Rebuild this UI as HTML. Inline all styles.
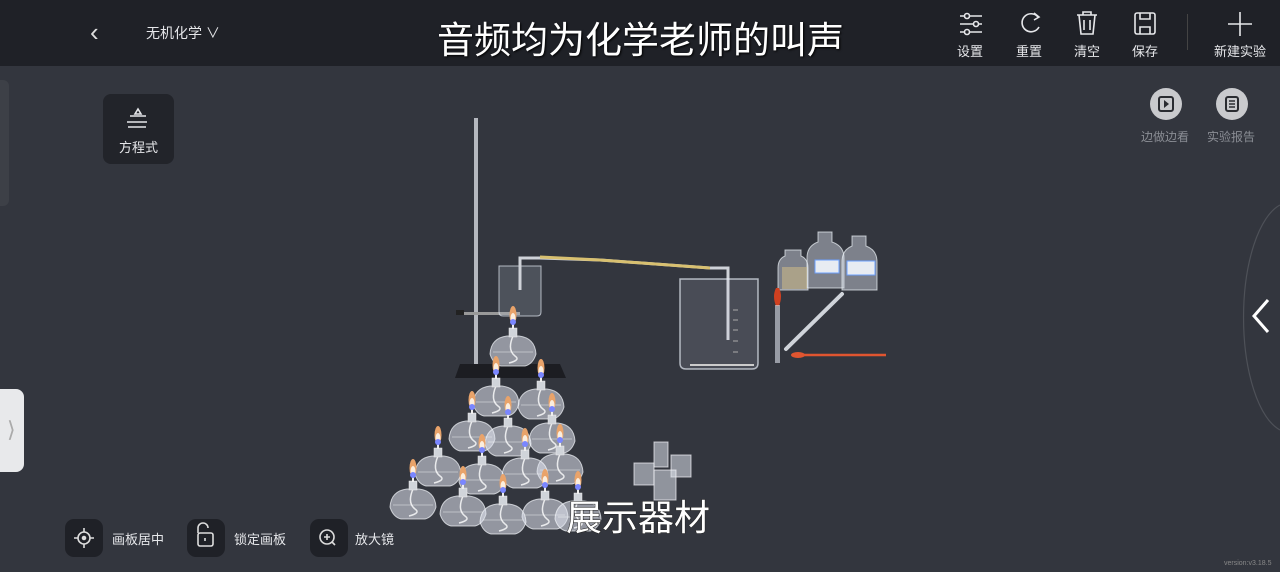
<!DOCTYPE html>
<html><head><meta charset="utf-8"><style>
html,body{margin:0;padding:0;width:1280px;height:572px;overflow:hidden;background:#33363e;font-family:"Liberation Sans","Noto Sans CJK SC",sans-serif;}
.top{position:absolute;left:0;top:0;width:1280px;height:66px;background:#1f2127;}
.t{position:absolute;color:#e6e7ea;white-space:nowrap;}
.btn{position:absolute;width:38px;height:38px;border-radius:9px;background:#1f2127;}
</style></head><body>
<div class="top"></div>
<div class="t" style="left:90px;top:17px;font-size:26px;color:#ddd;">‹</div>
<div class="t" style="left:146px;top:23px;font-size:14px;">无机化学 ∨</div>
<div class="t" style="left:437px;top:10px;font-size:37px;color:#fff;text-shadow:1px 1px 2px #000;">音频均为化学老师的叫声</div>
<div class="t" style="left:957px;top:41px;font-size:13px;">设置</div>
<div class="t" style="left:1016px;top:41px;font-size:13px;">重置</div>
<div class="t" style="left:1074px;top:41px;font-size:13px;">清空</div>
<div class="t" style="left:1132px;top:41px;font-size:13px;">保存</div>
<div class="t" style="left:1214px;top:41px;font-size:13px;">新建实验</div>
<div style="position:absolute;left:1187px;top:14px;width:1px;height:36px;background:#444;"></div>
<div style="position:absolute;left:103px;top:94px;width:71px;height:70px;border-radius:8px;background:#22242a;"></div>
<div class="t" style="left:119px;top:137px;font-size:13px;">方程式</div>
<div class="t" style="left:1141px;top:128px;font-size:12px;color:#8a8d94;">边做边看</div>
<div class="t" style="left:1207px;top:128px;font-size:12px;color:#8a8d94;">实验报告</div>
<div style="position:absolute;left:0;top:80px;width:9px;height:126px;border-radius:0 6px 6px 0;background:#3d4047;"></div>
<div style="position:absolute;left:0;top:389px;width:24px;height:83px;border-radius:0 8px 8px 0;background:#e8e9eb;"></div>
<div class="t" style="left:7px;top:417px;font-size:22px;color:#aaa;">⟩</div>
<div class="btn" style="left:65px;top:519px;"></div>
<div class="btn" style="left:187px;top:519px;"></div>
<div class="btn" style="left:310px;top:519px;"></div>
<div class="t" style="left:112px;top:529px;font-size:13px;">画板居中</div>
<div class="t" style="left:234px;top:529px;font-size:13px;">锁定画板</div>
<div class="t" style="left:355px;top:529px;font-size:13px;">放大镜</div>
<div class="t" style="left:1224px;top:560px;font-size:7px;color:#888;">version:v3.18.5</div>
<svg width="1280" height="572" style="position:absolute;left:0;top:0" xmlns="http://www.w3.org/2000/svg">
<defs>
<g id="lamp">
 <path d="M-23,4 Q-22,-12 -6,-14 L6,-14 Q22,-12 23,4 Q20,14 12,16 L-12,16 Q-20,14 -23,4Z" fill="rgba(225,230,240,0.55)" stroke="rgba(245,248,252,0.7)" stroke-width="1"/>
 <path d="M-20,2 H20" stroke="rgba(255,255,255,0.4)" stroke-width="1"/>
 <path d="M0,-14 Q-6,0 2,6 Q8,10 -4,13" stroke="rgba(255,255,255,0.8)" fill="none" stroke-width="1.5"/>
 <rect x="-4" y="-22" width="8" height="9" fill="#d0d4da" stroke="#eee" stroke-width="0.5"/>
 <rect x="-1" y="-27" width="2" height="6" fill="#eee"/>
 <ellipse cx="0" cy="-35" rx="3.5" ry="9" fill="#e9a36a"/>
 <ellipse cx="0" cy="-32" rx="2.5" ry="5" fill="#fbeede"/>
 <ellipse cx="0" cy="-28" rx="3" ry="3" fill="#7a86ff"/>
</g>
</defs>
<g stroke="#e6e7ea" stroke-width="1.6" fill="none">
 <path d="M960,16h22M960,24h22M960,32h22"/><circle cx="967" cy="16" r="2.5" fill="#1f2127"/><circle cx="976" cy="24" r="2.5" fill="#1f2127"/><circle cx="967" cy="32" r="2.5" fill="#1f2127"/>
 <path d="M1038,17 A9,9 0 1 0 1039,27"/><path d="M1034,13l5,4-5,3"/>
 <path d="M1077,15h20M1083,15v-3h8v3M1079,15l2,19h12l2-19M1084,20v10M1090,20v10"/>
 <rect x="1135" y="13" width="20" height="21" rx="2"/><path d="M1140,13v6h10v-6M1140,34v-7h10v7"/>
 <path d="M1240,12v24M1228,24h24"/>
 <path d="M130,116h16M127,122h20M128,127h18" /><path d="M138,109l-3,5h6z"/>
</g>
<circle cx="1166" cy="104" r="16" fill="#c9cacd"/><rect x="1159" y="97" width="14" height="14" rx="2" fill="none" stroke="#2a2c31" stroke-width="2"/><path d="M1164,100v8l5-4z" fill="#2a2c31"/>
<circle cx="1232" cy="104" r="16" fill="#c9cacd"/><rect x="1226" y="97" width="12" height="14" rx="2" fill="none" stroke="#2a2c31" stroke-width="2"/><path d="M1229,101h6M1229,104h6M1229,107h6" stroke="#2a2c31" stroke-width="1.5"/>
<path d="M1280,205 A46,115 0 0 0 1280,430" fill="none" stroke="#4e5158" stroke-width="1.2"/>
<path d="M1268,300l-14,16l14,16" fill="none" stroke="#fff" stroke-width="3"/>
<g stroke="#ddd" stroke-width="1.6" fill="none">
<circle cx="84" cy="538" r="6"/><circle cx="84" cy="538" r="1.5" fill="#ddd"/><path d="M84,528v4M84,544v4M74,538h4M90,538h4"/>
<rect x="198" y="533" width="15" height="13" rx="2"/><path d="M198,533v-5a5,5 0 0 1 10,0"/><path d="M205,538v3"/>
<circle cx="327" cy="537" r="7"/><path d="M324,537h6M327,534v6M332,542l3,3"/>
</g>
<rect x="474" y="118" width="4" height="252" fill="#b5b8bf"/>
<path d="M455,378 L460,364 L560,364 L566,378Z" fill="#1c1d22"/>
<rect x="460" y="312" width="60" height="3" fill="#999"/><rect x="456" y="310" width="8" height="5" fill="#222"/>
<path d="M499,266 h42 v46 q0,4 -4,4 h-34 q-4,0 -4,-4z" fill="rgba(200,210,225,0.18)" stroke="rgba(230,235,245,0.7)"/>
<path d="M520,290 V258 H540 L600,260 L710,268 H728 V340" fill="none" stroke="#cfd2d8" stroke-width="3"/>
<path d="M540,257 L600,260 L710,268" fill="none" stroke="#d8c070" stroke-width="3"/>
<path d="M680,279 h78 v84 q0,6 -6,6 h-66 q-6,0 -6,-6z" fill="rgba(200,210,225,0.15)" stroke="rgba(230,235,245,0.7)" stroke-width="1.5"/>
<path d="M690,365 h64" stroke="#ccc" stroke-width="2"/>
<g stroke="#aaa" stroke-width="1"><path d="M733,310h5M733,320h5M733,330h5M733,341h5M733,352h5"/></g>
<g fill="rgba(215,222,232,0.45)" stroke="rgba(240,245,250,0.7)">
<path d="M785,250h16v6q7,3 7,12v22h-30v-22q0-9 7-12z"/>
<path d="M818,232h14v10q12,4 12,16v30h-37v-30q0-12 11-16z"/>
<path d="M852,236h14v10q11,4 11,16v28h-35v-28q0-12 10-16z"/>
</g>
<rect x="782" y="267" width="25" height="22" fill="#c8b888" opacity="0.6"/>
<rect x="815" y="260" width="24" height="13" fill="#e8ecf2" stroke="#6aa0ff"/>
<rect x="847" y="261" width="28" height="14" fill="#e8ecf2" stroke="#6aa0ff"/>
<path d="M776,288q-4,8 0,18h3q4-10 0-18z" fill="#d04020"/><rect x="775" y="305" width="5" height="58" fill="rgba(220,225,235,0.6)"/>
<path d="M786,349 L842,294" stroke="#d0d4da" stroke-width="4" stroke-linecap="round"/>
<path d="M792,355h94" stroke="#e05530" stroke-width="2.5"/><ellipse cx="798" cy="355" rx="7" ry="3" fill="#e05530"/>
<g fill="rgba(220,225,235,0.55)" stroke="rgba(245,245,250,0.7)">
<rect x="654" y="442" width="14" height="25"/><rect x="671" y="455" width="20" height="22"/><rect x="634" y="463" width="20" height="22"/><rect x="654" y="470" width="22" height="30"/>
</g>
<use href="#lamp" x="513" y="350"/>
<use href="#lamp" x="496" y="400"/><use href="#lamp" x="541" y="403"/>
<use href="#lamp" x="472" y="435"/><use href="#lamp" x="552" y="437"/><use href="#lamp" x="508" y="440"/>
<use href="#lamp" x="438" y="470"/><use href="#lamp" x="560" y="468"/><use href="#lamp" x="525" y="472"/><use href="#lamp" x="482" y="478"/>
<use href="#lamp" x="413" y="503"/><use href="#lamp" x="463" y="510"/><use href="#lamp" x="545" y="513"/><use href="#lamp" x="578" y="515"/><use href="#lamp" x="503" y="518"/>
<text x="566" y="530" font-size="36" fill="#fff" font-family="Liberation Sans, Noto Sans CJK SC, sans-serif" style="paint-order:stroke" stroke="#222" stroke-width="1">展示器材</text>
</svg>
</body></html>
